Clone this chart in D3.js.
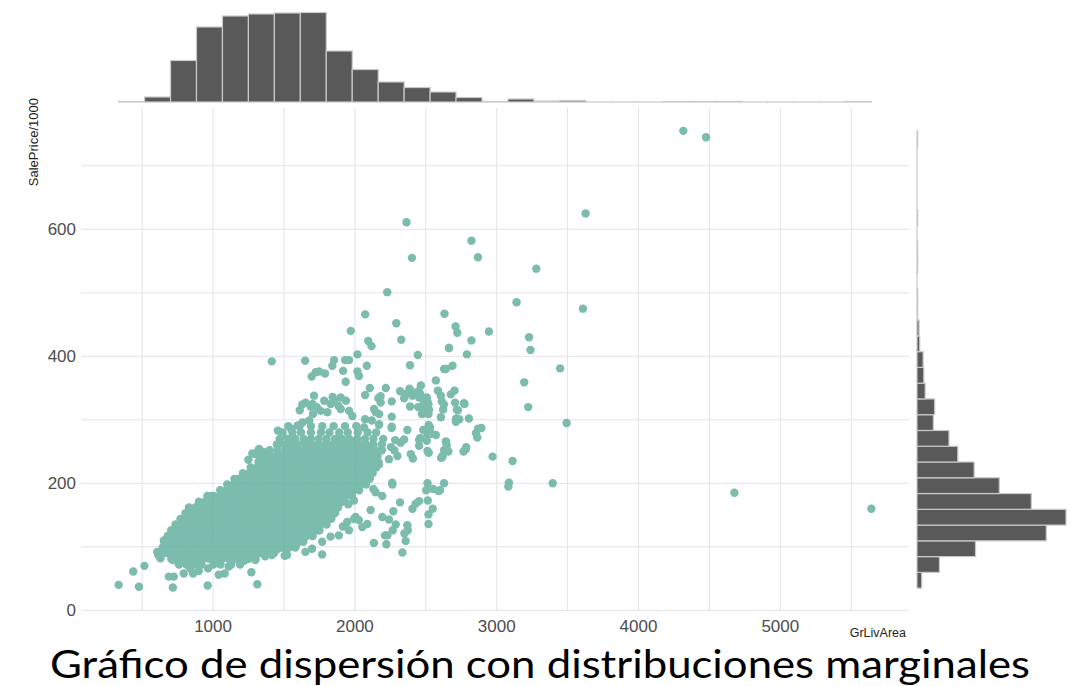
<!DOCTYPE html>
<html>
<head>
<meta charset="utf-8">
<script src="https://cdn.jsdelivr.net/npm/d3@7"></script>
<style>
  body { margin: 0; background: #fff; }
  svg { display: block; font-family: "Liberation Sans", Arial, sans-serif; }
</style>
</head>
<body>
<div id="chart"></div>
<script>
// ---- data ----
// marginal histogram of GrLivArea: 29 bins of ~183 sq ft starting at 334
const areaBinStart = 334;
const areaBinWidth = 183.03;
const areaCounts = [1, 10, 83, 150, 172, 176, 178, 179, 102, 65, 40, 29, 20, 9, 1,
  6, 2, 3, 0, 0, 0, 1, 1, 1, 0, 0, 0, 0, 1];

// marginal histogram of SalePrice/1000: 29 bins of ~24.8 starting at 34.9
const priceBinStart = 34.9;
const priceBinWidth = 24.83;
const priceCounts = [7, 33, 86, 190, 219, 168, 121, 84, 60, 47, 24, 26, 12, 10, 9,
  4, 3, 1, 1, 0, 1, 1, 0, 1, 0, 0, 0, 0, 1];

const xTicks = [1000, 2000, 3000, 4000, 5000];
const xGrid = [500, 1000, 1500, 2000, 2500, 3000, 3500, 4000, 4500, 5000, 5500];
const yTicks = [0, 200, 400, 600];
const yGrid = [0, 100, 200, 300, 400, 500, 600, 700];

// dense core of the cloud: [SalePrice/1000, GrLivArea values along that row]
const coreRows = [
  [72, [760, 812, 868, 918, 1003, 1052, 1128, 1190]],
  [81, [705, 750, 795, 838, 885, 930, 972, 1020, 1065, 1110, 1152, 1200, 1250, 1300]],
  [90, [668, 712, 758, 800, 846, 890, 935, 978, 1022, 1066, 1110, 1156, 1200, 1244, 1290, 1335, 1380, 1430]],
  [99, [645, 690, 735, 778, 822, 868, 912, 956, 1000, 1045, 1090, 1133, 1178, 1222, 1268, 1312, 1356, 1400, 1446, 1490, 1535, 1580]],
  [108, [655, 700, 745, 790, 834, 880, 924, 968, 1012, 1057, 1101, 1146, 1190, 1235, 1280, 1324, 1368, 1412, 1458, 1502, 1546, 1590, 1636]],
  [117, [680, 724, 768, 812, 857, 902, 946, 990, 1034, 1079, 1124, 1168, 1212, 1257, 1302, 1346, 1390, 1435, 1480, 1524, 1568, 1613, 1658, 1702]],
  [126, [705, 748, 792, 836, 880, 924, 968, 1013, 1057, 1101, 1146, 1190, 1235, 1280, 1324, 1368, 1413, 1457, 1502, 1546, 1590, 1635, 1680, 1724, 1750]],
  [135, [735, 780, 825, 870, 914, 958, 1002, 1046, 1090, 1135, 1179, 1224, 1268, 1312, 1357, 1402, 1446, 1490, 1535, 1580, 1624, 1668, 1712, 1757, 1800]],
  [144, [770, 814, 858, 902, 946, 990, 1035, 1080, 1124, 1168, 1212, 1257, 1302, 1346, 1390, 1435, 1480, 1524, 1568, 1613, 1657, 1702, 1746, 1790, 1834]],
  [153, [805, 850, 895, 940, 985, 1030, 1075, 1120, 1164, 1208, 1253, 1298, 1342, 1386, 1431, 1476, 1520, 1564, 1608, 1653, 1698, 1742, 1786, 1830, 1860]],
  [162, [830, 874, 918, 962, 1006, 1050, 1094, 1139, 1184, 1228, 1272, 1316, 1361, 1406, 1450, 1494, 1539, 1584, 1628, 1672, 1716, 1761, 1804, 1849, 1880]],
  [171, [900, 944, 988, 1032, 1076, 1120, 1165, 1210, 1254, 1298, 1342, 1387, 1432, 1476, 1520, 1565, 1610, 1654, 1698, 1742, 1787, 1832, 1876, 1910]],
  [180, [960, 1005, 1050, 1095, 1140, 1185, 1230, 1274, 1318, 1363, 1408, 1452, 1496, 1540, 1585, 1630, 1674, 1718, 1763, 1808, 1852, 1896, 1940, 1980]],
  [189, [1050, 1095, 1140, 1185, 1230, 1275, 1320, 1364, 1408, 1452, 1497, 1542, 1586, 1630, 1674, 1719, 1764, 1808, 1852, 1896, 1940, 1985, 2030]],
  [198, [1100, 1145, 1190, 1235, 1280, 1324, 1368, 1412, 1457, 1502, 1546, 1590, 1634, 1679, 1724, 1768, 1812, 1856, 1900, 1945, 1990, 2035, 2078]],
  [207, [1150, 1195, 1240, 1285, 1330, 1375, 1420, 1465, 1510, 1554, 1598, 1642, 1687, 1732, 1776, 1820, 1864, 1908, 1952, 1997, 2042, 2086, 2105]],
  [216, [1210, 1255, 1300, 1345, 1390, 1434, 1478, 1522, 1567, 1612, 1656, 1700, 1745, 1790, 1834, 1878, 1922, 1966, 2010, 2055, 2100, 2125]],
  [225, [1265, 1310, 1355, 1400, 1445, 1490, 1534, 1578, 1622, 1667, 1712, 1756, 1800, 1844, 1888, 1932, 1977, 2022, 2066, 2110, 2150]],
  [234, [1320, 1365, 1410, 1455, 1500, 1545, 1590, 1635, 1680, 1724, 1768, 1812, 1856, 1900, 1945, 1990, 2034, 2078, 2122, 2165]],
  [243, [1335, 1390, 1440, 1490, 1538, 1582, 1628, 1672, 1716, 1760, 1804, 1848, 1893, 1938, 1983, 2028, 2073, 2118, 2160]],
  [252, [1400, 1455, 1510, 1558, 1602, 1648, 1694, 1738, 1782, 1828, 1873, 1918, 1962, 2008, 2052, 2098, 2145, 2190]],
  [261, [1450, 1505, 1550, 1600, 1650, 1695, 1740, 1790, 1840, 1885, 1930, 1980, 2030, 2080, 2130, 2190]],
  [270, [1470, 1530, 1580, 1640, 1690, 1745, 1800, 1860, 1910, 1960, 2015, 2070, 2130, 2200]],
  [280, [1490, 1560, 1620, 1690, 1760, 1820, 1890, 1950, 2020, 2090, 2150]],
  [290, [1530, 1610, 1690, 1770, 1850, 1930, 2010]]
];

// scattered houses around the core: [GrLivArea, SalePrice/1000]
const lowerFringe = [
  [334, 40], [477, 37], [437, 61], [516, 70], [716, 36], [962, 39], [1312, 41], [1270, 60],
  [688, 53], [723, 53], [793, 58], [840, 66], [899, 62], [859, 58], [965, 66], [1040, 56],
  [1082, 58], [1110, 69], [613, 87], [629, 82], [606, 92], [646, 90], [683, 90], [700, 95],
  [716, 79], [758, 73], [805, 77], [676, 113], [695, 116], [653, 110], [1298, 79], [1368, 85],
  [1415, 87], [1458, 97], [1521, 87], [1220, 78], [1505, 86], [1514, 95], [1592, 105], [1651, 92],
  [1698, 97], [1769, 88], [1604, 110], [1627, 121], [1769, 108], [1745, 126], [1828, 116], [1887, 118],
  [1958, 126], [1915, 132], [1946, 139], [2005, 147], [2028, 142], [1993, 144], [2052, 131], [2087, 136],
  [2111, 158], [1875, 163], [1922, 173], [1953, 167], [1993, 173], [2134, 106], [2222, 104], [2212, 118],
  [2229, 118], [2335, 91], [2267, 126], [2349, 121], [2373, 126], [2358, 109], [2370, 134], [2288, 135],
  [2240, 143], [2193, 147], [2271, 156], [2406, 160], [2429, 168], [2453, 172], [2514, 173], [2549, 160],
  [2519, 151], [2519, 136], [2318, 170], [2264, 198], [2193, 180], [2130, 191], [2146, 186], [2512, 200],
  [2552, 191], [2589, 188], [2600, 189], [2629, 200], [2503, 189], [2263, 201]
];

const upperFringe = [
  [2409, 239], [2278, 252], [2322, 264], [2284, 268], [2254, 257], [2170, 292], [2259, 287], [2370, 284],
  [2453, 268], [2512, 276], [2571, 276], [2641, 266], [2453, 259], [2512, 251], [2618, 243], [2712, 297],
  [2854, 279], [2783, 254], [2347, 269], [2300, 243], [2240, 238], [2170, 230], [2394, 246], [2520, 292],
  [2482, 284], [2541, 278], [2629, 252], [2608, 240], [2766, 250], [2868, 286], [2892, 287], [2863, 272],
  [2519, 278], [2647, 259], [2507, 267], [2460, 271], [2659, 250], [2971, 242], [2521, 248], [2616, 241],
  [2644, 265], [2785, 257], [990, 180], [1018, 173], [1141, 185], [1160, 202], [1249, 237], [1277, 247],
  [1325, 254], [1360, 249], [1372, 241], [1457, 283], [1490, 275], [1548, 286], [1596, 291], [1631, 296],
  [1678, 299], [1702, 325], [1784, 330], [1843, 336], [1937, 330], [1298, 246], [1357, 243], [1321, 253],
  [1462, 261], [1509, 246], [1169, 207],
  [1853, 394], [1931, 394], [1959, 394], [2018, 403], [1841, 385], [2084, 385], [2389, 386], [1695, 368],
  [1724, 375], [1747, 376], [1789, 373], [1917, 377], [2018, 376], [2029, 369], [1935, 360], [2571, 362],
  [2629, 380], [2688, 385], [2105, 350], [2072, 339], [2218, 350], [2166, 334], [2182, 327], [2135, 317],
  [2147, 312], [2260, 329], [2319, 345], [2347, 334], [2394, 345], [2406, 338], [2465, 354], [2453, 335],
  [2488, 334], [2512, 329], [2448, 345], [2389, 321], [2488, 321], [2519, 309], [2446, 320], [2585, 346],
  [2606, 338], [2613, 329], [2622, 316], [2606, 304], [2676, 340], [2706, 327], [1900, 335], [1712, 338],
  [1653, 327], [1688, 321], [1731, 320], [1759, 314], [1705, 309], [1829, 325], [1853, 330], [1884, 322],
  [1806, 312], [1900, 317], [1959, 314], [1982, 306], [1611, 315], [1629, 324], [2171, 309], [2260, 305],
  [2171, 293], [2260, 289], [2072, 301], [2119, 299], [2065, 288], [2181, 337], [2365, 341], [2430, 340],
  [2482, 310], [2719, 316], [2713, 300], [2769, 326], [2804, 302], [2642, 380], [2628, 324], [2507, 335],
  [2519, 324], [2460, 341], [2484, 325], [2736, 301], [2523, 316], [2472, 309], [2530, 288], [2663, 413],
  [2385, 349], [2715, 302], [2726, 315], [2773, 325], [2703, 346],
  [2073, 466], [2632, 467], [2292, 452], [1971, 440], [2710, 447], [2722, 437], [2094, 424], [2117, 416],
  [2327, 426], [2822, 425], [2664, 413], [2790, 403], [2444, 402], [1649, 393], [1414, 392], [2945, 439]
];

const farPoints = [
  [4316, 755], [4476, 745], [3627, 625], [2364, 611], [2822, 582], [2868, 556], [2402, 555], [3279, 538],
  [2228, 501], [3140, 485], [3608, 475], [4676, 185], [5642, 160], [3493, 295], [3447, 381], [3228, 430],
  [3238, 410], [3194, 359], [3222, 320], [3395, 200], [3086, 201], [3082, 195], [3112, 235]
];

// ---- drawing ----
const W = 1071, H = 686;
const svg = d3.select('#chart').append('svg')
  .attr('width', W)
  .attr('height', H);

// main panel scales (ggplot style 5% expansion of the data range)
const x = d3.scaleLinear().domain([68.6, 5907.4]).range([81, 909]);
const y = d3.scaleLinear().domain([-1.1, 791]).range([611, 108]);

// grid
svg.append('g')
  .selectAll('line')
  .data(xGrid)
  .join('line')
  .attr('x1', d => x(d)).attr('x2', d => x(d))
  .attr('y1', y.range()[0]).attr('y2', y.range()[1])
  .attr('stroke', '#e4e4e4')
  .attr('stroke-width', 1);

svg.append('g')
  .selectAll('line')
  .data(yGrid)
  .join('line')
  .attr('x1', x.range()[0]).attr('x2', x.range()[1])
  .attr('y1', d => y(d)).attr('y2', d => y(d))
  .attr('stroke', '#e4e4e4')
  .attr('stroke-width', 1);

// tick labels
svg.append('g')
  .selectAll('text')
  .data(xTicks)
  .join('text')
  .attr('x', d => x(d))
  .attr('y', 632)
  .attr('text-anchor', 'middle')
  .attr('font-size', 17)
  .attr('fill', '#4d4d4d')
  .text(d => d);

svg.append('g')
  .selectAll('text')
  .data(yTicks)
  .join('text')
  .attr('x', 76)
  .attr('y', d => y(d))
  .attr('dy', '0.35em')
  .attr('text-anchor', 'end')
  .attr('font-size', 17)
  .attr('fill', '#4d4d4d')
  .text(d => d);

// axis titles
svg.append('text')
  .attr('transform', 'translate(38, 98) rotate(-90)')
  .attr('text-anchor', 'end')
  .attr('font-size', 13)
  .attr('fill', '#222')
  .text('SalePrice/1000');

svg.append('text')
  .attr('x', 906)
  .attr('y', 637)
  .attr('text-anchor', 'end')
  .attr('font-size', 12.5)
  .attr('fill', '#222')
  .text('GrLivArea');

// scatter points (opacity on the group so the dense core reads as one solid mass)
const corePoints = coreRows.flatMap(([p, xs]) => xs.map(a => [a, p]));
const allPoints = corePoints.concat(lowerFringe, upperFringe, farPoints);

svg.append('g')
  .attr('opacity', 0.88)
  .selectAll('circle')
  .data(allPoints)
  .join('circle')
  .attr('cx', d => x(d[0]))
  .attr('cy', d => y(d[1]))
  .attr('r', 4.2)
  .attr('fill', '#69b3a2');

// top marginal histogram
const areaBins = areaCounts.map((c, i) => ({
  x0: areaBinStart + i * areaBinWidth,
  x1: areaBinStart + (i + 1) * areaBinWidth,
  count: c
}));
const yTop = d3.scaleLinear().domain([0, 180]).range([102, 12]);

svg.append('g')
  .selectAll('rect')
  .data(areaBins)
  .join('rect')
  .attr('x', d => x(d.x0))
  .attr('width', d => x(d.x1) - x(d.x0))
  .attr('y', d => yTop(d.count))
  .attr('height', d => Math.max(yTop(0) - yTop(d.count), 0.01))
  .attr('fill', '#595959')
  .attr('stroke', '#c9c9c9')
  .attr('stroke-width', 1.2);

// right marginal histogram
const priceBins = priceCounts.map((c, i) => ({
  y0: priceBinStart + i * priceBinWidth,
  y1: priceBinStart + (i + 1) * priceBinWidth,
  count: c
}));
const xRight = d3.scaleLinear().domain([0, 219]).range([917, 1066]);

svg.append('g')
  .selectAll('rect')
  .data(priceBins)
  .join('rect')
  .attr('x', xRight(0))
  .attr('width', d => Math.max(xRight(d.count) - xRight(0), 0.01))
  .attr('y', d => y(d.y1))
  .attr('height', d => y(d.y0) - y(d.y1))
  .attr('fill', '#595959')
  .attr('stroke', '#c9c9c9')
  .attr('stroke-width', 1.2);

// caption
svg.append('text')
  .attr('x', 50)
  .attr('y', 678)
  .attr('font-family', 'Lato, "Open Sans", sans-serif')
  .attr('font-size', 38)
  .attr('fill', '#000')
  .attr('textLength', 980)
  .attr('lengthAdjust', 'spacingAndGlyphs')
  .text('Gráfico de dispersión con distribuciones marginales');
</script>
</body>
</html>
